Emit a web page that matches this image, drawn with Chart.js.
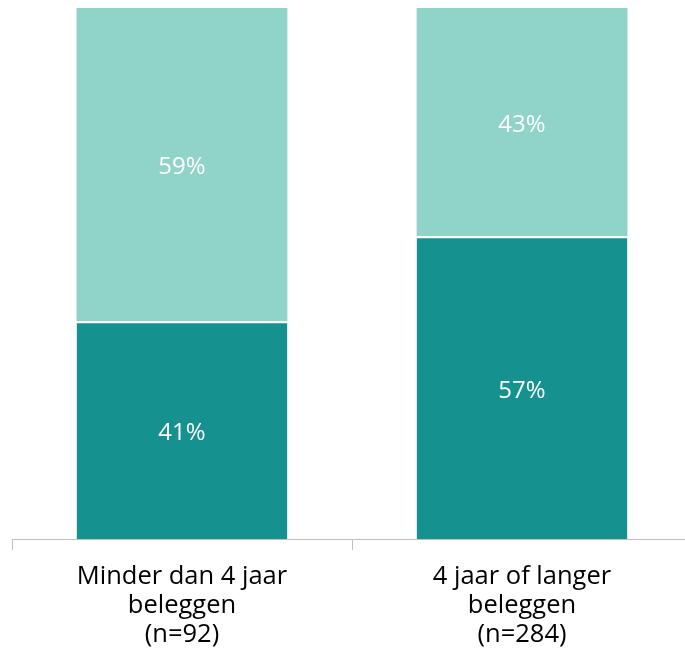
<!DOCTYPE html>
<html><head><meta charset="utf-8">
<script src="https://cdn.jsdelivr.net/npm/chart.js@4/dist/chart.umd.min.js"></script>
<style>html,body{margin:0;padding:0;overflow:hidden;background:#fff}#wrap{width:700px;height:652px}</style>
</head><body><div id="wrap"><canvas id="c" width="700" height="652"></canvas></div>
<script>
const categories = [["Minder dan 4 jaar","beleggen","(n=92)"],["4 jaar of langer","beleggen","(n=284)"]];
const lowerValues = [41, 57];
const upperValues = [59, 43];
const FONT = "'Open Sans', 'Liberation Sans', sans-serif";

const labelPlugin = {
  id: 'segLabels',
  afterDatasetsDraw(chart) {
    const ctx = chart.ctx;
    ctx.save();
    ctx.fillStyle = '#fff';
    ctx.font = '24px ' + FONT;
    ctx.textAlign = 'center';
    ctx.textBaseline = 'middle';
    chart.data.datasets.forEach((ds, di) => {
      chart.getDatasetMeta(di).data.forEach((bar, i) => {
        const p = bar.getProps(['x','y','base'], true);
        ctx.fillText(ds.data[i] + '%', p.x, (p.y + p.base) / 2 + 3);
      });
    });
    ctx.restore();
  }
};

new Chart(document.getElementById('c'), {
  type: 'bar',
  data: {
    labels: categories,
    datasets: [
      { data: lowerValues, backgroundColor: '#15918f', borderColor: '#ffffff',
        borderWidth: {top: 2, left: 0, right: 0, bottom: 0}, borderSkipped: false,
        categoryPercentage: 1, barPercentage: 0.62 },
      { data: upperValues, backgroundColor: '#8fd3c9', borderWidth: 0,
        categoryPercentage: 1, barPercentage: 0.62 }
    ]
  },
  options: {
    responsive: false,
    animation: false,
    layout: { padding: { top: 8, left: 12, right: 8, bottom: 0 } },
    plugins: { legend: { display: false }, tooltip: { enabled: false } },
    scales: {
      x: {
        stacked: true,
        grid: { display: true, offset: true, drawOnChartArea: false, drawTicks: true, tickLength: 11, color: '#bfbfbf' },
        border: { display: true, color: '#bfbfbf' },
        ticks: { color: '#000', font: { family: FONT, size: 25.5, lineHeight: 1.14 }, padding: 12, maxRotation: 0, autoSkip: false },
        afterFit(scale) { scale.height = 113; }
      },
      y: { stacked: true, display: false, min: 0, max: 100 }
    }
  },
  plugins: [labelPlugin]
});
</script></body></html>
